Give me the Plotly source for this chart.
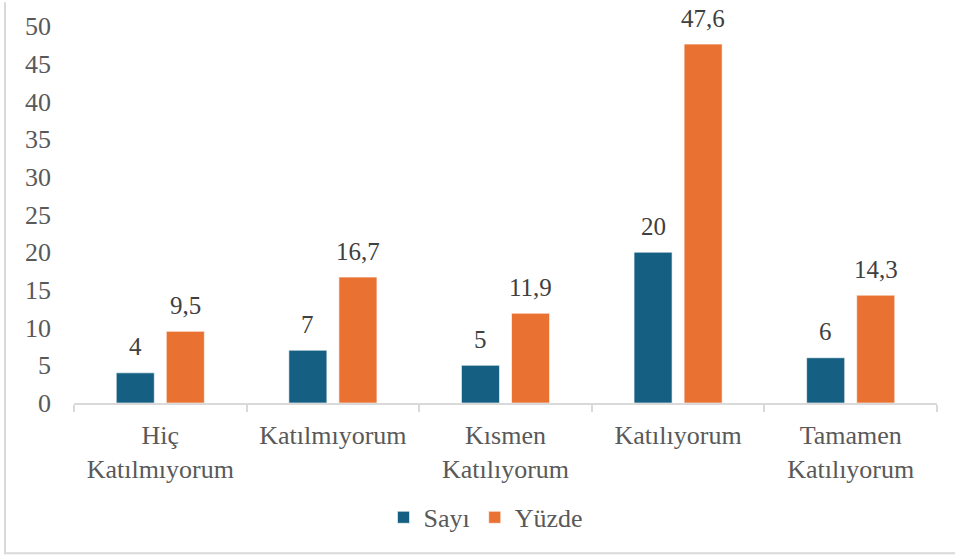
import plotly.graph_objects as go

categories = ["Hiç<br>Katılmıyorum", "Katılmıyorum", "Kısmen<br>Katılıyorum", "Katılıyorum", "Tamamen<br>Katılıyorum"]
sayi = [4, 7, 5, 20, 6]
yuzde = [9.5, 16.7, 11.9, 47.6, 14.3]
y_ticks = [0, 5, 10, 15, 20, 25, 30, 35, 40, 45, 50]

FONT = "Liberation Serif, serif"
TXT = "#595959"
LAB = "#404040"
BLUE = "#156082"
ORANGE = "#E97132"

fig = go.Figure()
fig.add_trace(go.Bar(name="Sayı", x=categories, y=sayi, marker=dict(color=BLUE, line=dict(color="white", width=0.6))))
fig.add_trace(go.Bar(name="Yüzde", x=categories, y=yuzde, marker=dict(color=ORANGE, line=dict(color="white", width=0.6))))

def fmt(v):
    s = f"{v:g}" if float(v).is_integer() else f"{v:.1f}"
    return s.replace(".", ",")

annotations = []
for series, shift in ((sayi, -25), (yuzde, 25)):
    for c, v in zip(categories, series):
        annotations.append(dict(x=c, y=v, xref="x", yref="y", text=fmt(v), showarrow=False,
                                xshift=shift, yshift=26, yanchor="middle",
                                font=dict(family=FONT, size=25, color=LAB)))

L, R, T, B = 74, 18, 24, 155
W, H = 955, 558
pw, ph = W - L - R, H - T - B
def px(x): return (x - L) / pw
def py(y): return (H - B - y) / ph

shapes = [
    dict(type="line", xref="paper", yref="paper", x0=px(5), x1=px(5), y0=py(0), y1=py(555), line=dict(color="#d9d9d9", width=2)),
    dict(type="line", xref="paper", yref="paper", x0=px(5), x1=px(955), y0=py(554), y1=py(554), line=dict(color="#d9d9d9", width=2)),
]

fig.update_layout(
    width=W, height=H,
    margin=dict(l=L, r=R, t=T, b=B),
    paper_bgcolor="white", plot_bgcolor="white",
    barmode="group", bargap=0.42, bargroupgap=0.24,
    font=dict(family=FONT, size=26, color=TXT),
    separators=",.",
    annotations=annotations,
    shapes=shapes,
    legend=dict(orientation="h", x=px(486), xanchor="center", y=py(518), yanchor="middle",
                font=dict(family=FONT, size=26, color=TXT), itemwidth=30,
                traceorder="normal"),
    xaxis=dict(showline=True, linecolor="#d9d9d9", linewidth=1.5, ticks="outside", tickson="boundaries",
               ticklen=7, tickcolor="#d9d9d9", tickwidth=1.5, showgrid=False,
               tickfont=dict(family=FONT, size=26, color=TXT), ticklabelstandoff=8),
    yaxis=dict(range=[0, 50], tickvals=y_ticks, showgrid=False, showline=False, zeroline=False,
               tickfont=dict(family=FONT, size=26, color=TXT), ticklabelstandoff=22),
)

fig.write_html("out.html", config={"displayModeBar": False},
               post_script="document.body.style.margin='0';")
